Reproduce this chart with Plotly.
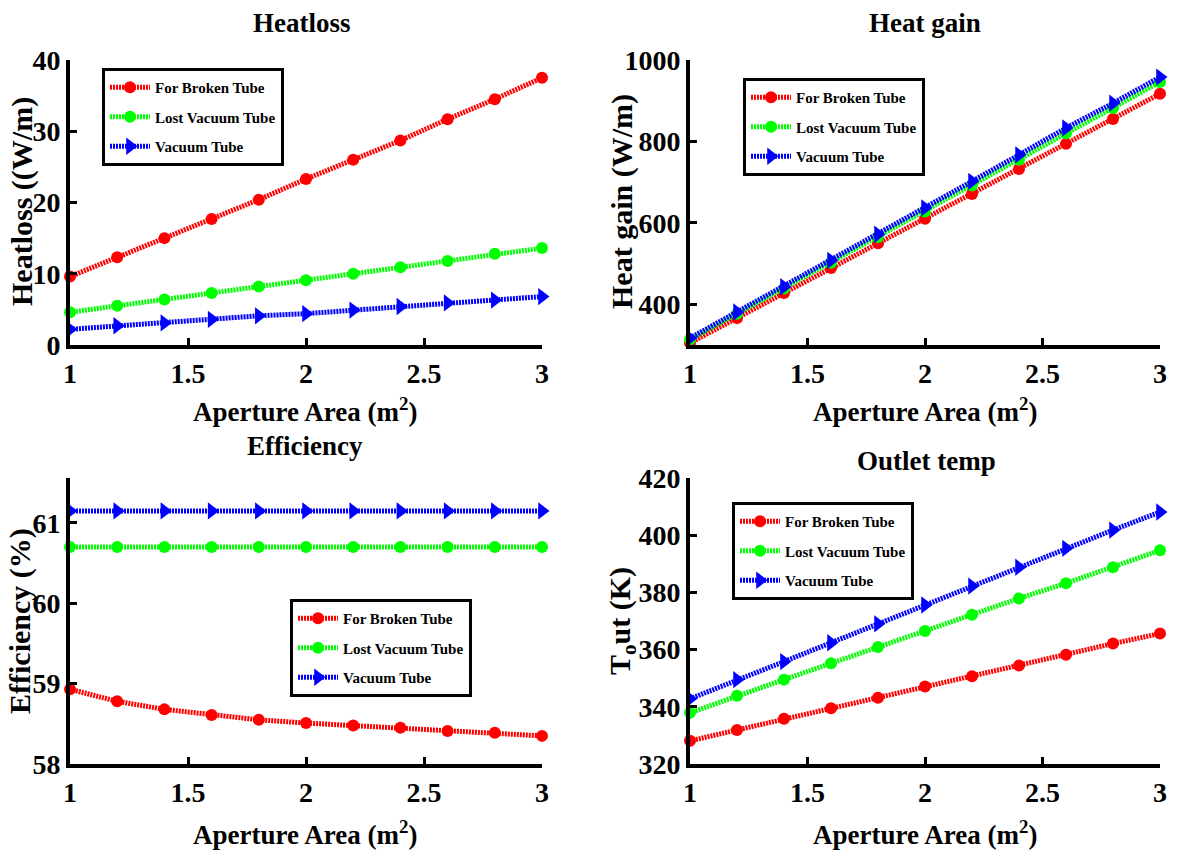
import plotly.graph_objects as go

# ---------------- data ----------------
aperture = [1.0, 1.2, 1.4, 1.6, 1.8, 2.0, 2.2, 2.4, 2.6, 2.8, 3.0]
series_names = ["For Broken Tube", "Lost Vacuum Tube", "Vacuum Tube"]

heatloss_broken = [9.6, 12.3, 15.0, 17.7, 20.4, 23.3, 26.0, 28.7, 31.7, 34.5, 37.5]
heatloss_lost = [4.6, 5.5, 6.4, 7.3, 8.2, 9.1, 10.0, 10.9, 11.8, 12.8, 13.6]
heatloss_vacuum = [2.2, 2.7, 3.1, 3.6, 4.1, 4.4, 4.9, 5.4, 5.9, 6.3, 6.8]

heatgain_broken = [305, 366, 428, 489, 550, 610, 671, 732, 794, 855, 917]
heatgain_lost = [314, 377, 439, 502, 565, 628, 692, 755, 820, 882, 946]
heatgain_vacuum = [317, 381, 443, 508, 572, 637, 702, 767, 833, 894, 958]

eff_broken = [58.93, 58.78, 58.68, 58.61, 58.55, 58.51, 58.48, 58.45, 58.41, 58.39, 58.35]
eff_lost = [60.70, 60.70, 60.70, 60.70, 60.70, 60.70, 60.70, 60.70, 60.70, 60.70, 60.70]
eff_vacuum = [61.15, 61.15, 61.15, 61.15, 61.15, 61.15, 61.15, 61.15, 61.15, 61.15, 61.15]

tout_broken = [328.1, 331.9, 335.8, 339.5, 343.2, 347.1, 350.7, 354.4, 358.2, 362.1, 365.6]
tout_lost = [337.9, 343.9, 349.5, 355.2, 360.9, 366.5, 372.2, 377.9, 383.2, 388.8, 394.7]
tout_vacuum = [342.8, 349.5, 355.8, 362.4, 369.0, 375.6, 382.2, 388.8, 395.4, 401.8, 408.1]

x_ticks = [1, 1.5, 2, 2.5, 3]
x_tick_text = ["1", "1.5", "2", "2.5", "3"]
heatloss_ticks = [0, 10, 20, 30, 40]
heatgain_ticks = [400, 600, 800, 1000]
eff_ticks = [58, 59, 60, 61]
tout_ticks = [320, 340, 360, 380, 400, 420]

# ---------------- styling ----------------
W, H = 1178, 857
FONT = "Liberation Serif, Times New Roman, serif"
colors = ["#ff0000", "#00ff00", "#0000ff"]
symbols = ["circle", "circle", "triangle-right"]
msizes = [12, 12, 15]


def px(xp):
    return xp / W


def py(yp):
    return 1 - yp / H


fig = go.Figure()

panels = [
    ("", [heatloss_broken, heatloss_lost, heatloss_vacuum], "legend"),
    ("2", [heatgain_broken, heatgain_lost, heatgain_vacuum], "legend2"),
    ("3", [eff_broken, eff_lost, eff_vacuum], "legend3"),
    ("4", [tout_broken, tout_lost, tout_vacuum], "legend4"),
]

for k, (suf, ys, leg) in enumerate(panels):
    for i, yv in enumerate(ys):
        fig.add_trace(go.Scatter(
            x=aperture, y=yv, name=series_names[i],
            mode="lines+markers",
            line=dict(color=colors[i], width=5, dash="2px,1px"),
            marker=dict(color=colors[i], symbol=symbols[i], size=msizes[i],
                        line=dict(width=0)),
            xaxis="x" + suf, yaxis="y" + suf,
            legend=leg, legendgroup=f"p{k}s{i}",
            cliponaxis=False,
        ))

axis_common = dict(
    showline=True, linecolor="black", linewidth=4,
    ticks="inside", ticklen=7, tickwidth=3, tickcolor="black",
    showgrid=False, zeroline=False, automargin=False,
    tickfont=dict(family=FONT, size=28, color="black", weight="bold"),
)

left_x = [px(70), px(542)]
right_x = [px(690), px(1160)]
top_y = [py(345), py(60)]
bot_y = [py(764), py(478)]

layout = dict(
    width=W, height=H,
    margin=dict(l=0, r=0, t=0, b=0, pad=0, autoexpand=False),
    paper_bgcolor="white", plot_bgcolor="white",
    font=dict(family=FONT, color="black"),
)

xdomains = [left_x, right_x, left_x, right_x]
ydomains = [top_y, top_y, bot_y, bot_y]
yranges = [[0, 40], [300, 1000], [58, 61.56], [320, 420]]
yticks = [heatloss_ticks, heatgain_ticks, eff_ticks, tout_ticks]

for k in range(4):
    suf = "" if k == 0 else str(k + 1)
    layout["xaxis" + suf] = dict(
        axis_common, domain=xdomains[k], range=[1, 3],
        tickvals=x_ticks, ticktext=x_tick_text,
        anchor="y" + suf,
    )
    layout["yaxis" + suf] = dict(
        axis_common, domain=ydomains[k], range=yranges[k],
        tickvals=yticks[k], ticktext=[str(t) for t in yticks[k]],
        anchor="x" + suf,
    )

leg_common = dict(
    bgcolor="white", bordercolor="black", borderwidth=3,
    font=dict(family=FONT, size=15, color="black", weight="bold"),
    xanchor="left", yanchor="top", itemwidth=40, tracegroupgap=7,
)
layout["legend"] = dict(leg_common, x=px(102), y=py(68))
layout["legend2"] = dict(leg_common, x=px(743), y=py(78))
layout["legend3"] = dict(leg_common, x=px(290), y=py(599))
layout["legend4"] = dict(leg_common, x=px(732), y=py(502))
layout["showlegend"] = True

fig.update_layout(**layout)

title_font = dict(family=FONT, size=27, color="black", weight="bold")
ytitle_font = dict(family=FONT, size=30, color="black", weight="bold")

annots = [
    ("Heatloss", 302, 23, 0, title_font),
    ("Heat gain", 925, 23, 0, title_font),
    ("Efficiency", 305, 446, 0, title_font),
    ("Outlet temp", 926, 461, 0, title_font),
    ("Aperture Area (m<sup>2</sup>)", 305, 410, 0, title_font),
    ("Aperture Area (m<sup>2</sup>)", 925, 410, 0, title_font),
    ("Aperture Area (m<sup>2</sup>)", 305, 833, 0, title_font),
    ("Aperture Area (m<sup>2</sup>)", 925, 833, 0, title_font),
    ("Heatloss ((W/m)", 22, 202, -90, ytitle_font),
    ("Heat gain (W/m)", 622, 202, -90, ytitle_font),
    ("Efficiency (%)", 20, 621, -90, ytitle_font),
    ("T<sub>o</sub>ut (K)", 622, 621, -90, ytitle_font),
]
for text, xx, yy, ang, f in annots:
    fig.add_annotation(text=text, x=px(xx), y=py(yy), xref="paper", yref="paper",
                       showarrow=False, textangle=ang, font=f,
                       xanchor="center", yanchor="middle")

fig.write_html("out.html")
